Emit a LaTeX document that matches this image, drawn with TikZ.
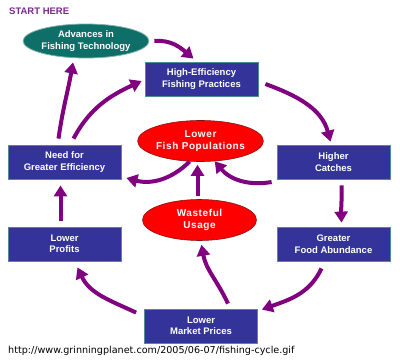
\documentclass[tikz,border=0pt]{standalone}
\usepackage{fontspec}
\setmainfont{Liberation Sans}
\newfontfamily\urlfont{DejaVu Sans}
\newfontfamily\spacedfont[LetterSpace=6]{Liberation Sans}
\usetikzlibrary{arrows.meta,shapes.geometric}
\definecolor{boxblue}{HTML}{333399}
\definecolor{boxedge}{HTML}{4E8C96}
\definecolor{techteal}{HTML}{0E6E68}
\definecolor{techedge}{HTML}{7FB0AA}
\definecolor{popred}{HTML}{FF0000}
\definecolor{rededge}{HTML}{8A1010}
\definecolor{arrowpurple}{HTML}{800080}
\definecolor{startpurple}{HTML}{7A2A8C}
\tikzset{
  stagebox/.style={draw=boxedge, line width=0.8pt, fill=boxblue, text=white,
    minimum width=113pt, minimum height=34pt, align=center, inner sep=0pt,
    font=\bfseries\fontsize{9.5}{11.5}\selectfont},
  techoval/.style={ellipse, draw=techedge, line width=0.8pt, fill=techteal, text=white,
    minimum width=114pt, minimum height=34pt, align=center, inner sep=0pt,
    font=\bfseries\fontsize{9.5}{11.5}\selectfont},
  redoval/.style={ellipse, draw=rededge, line width=0.6pt, fill=popred, text=white,
    minimum width=114pt, minimum height=41pt, align=center, inner sep=0pt,
    font=\spacedfont\bfseries\fontsize{10}{12}\selectfont},
  flow/.style={draw=arrowpurple, line width=4pt,
    -{Triangle[length=11pt,width=13pt]}}
}
\begin{document}
\begin{tikzpicture}[x=1pt,y=1pt]
\useasboundingbox (0,0) rectangle (400,360);
\fill[white] (0,0) rectangle (400,360);

\node[anchor=west, text=startpurple, font=\bfseries\fontsize{9.5}{11}\selectfont, inner sep=0pt] (start) at (9,349) {START HERE};

\node[techoval] (tech) at (86,319) {Advances in\\Fishing Technology};
\node[stagebox] (hep) at (201.5,281) {High-Efficiency\\Fishing Practices};
\node[stagebox] (catch) at (333.5,198) {Higher\\Catches};
\node[stagebox] (food) at (333.5,116) {Greater\\Food Abundance};
\node[stagebox] (market) at (201,34) {Lower\\Market Prices};
\node[stagebox] (profits) at (64.5,116) {Lower\\Profits};
\node[stagebox] (need) at (64.5,198) {Need for\\Greater Efficiency};
\node[redoval] (pop) at (200.5,219) {Lower\\Fish Populations};
\node[redoval] (waste) at (199.5,140) {Wasteful\\Usage};

\node[anchor=west, inner sep=0pt, font=\urlfont\fontsize{9.6}{11}\selectfont] (url) at (8,9) {http://www.grinningplanet.com/2005/06-07/fishing-cycle.gif};

\coordinate (a1s) at ([xshift=5pt]tech.east);
\draw[flow] (a1s) to[out=5, in=140] ([xshift=-8pt,yshift=3pt]hep.north);
\draw[flow] ([xshift=7pt,yshift=-5pt]hep.east) to[out=-20, in=105] ([xshift=-3pt,yshift=3pt]catch.north);
\draw[flow] ([xshift=8pt,yshift=-6pt]catch.south) to[out=-88, in=92] ([xshift=8pt,yshift=4pt]food.north);
\draw[flow] ([xshift=-12pt,yshift=-7pt]food.south) to[out=-115, in=20] ([xshift=4pt,yshift=-1pt]market.north east);
\draw[flow] ([xshift=-8pt,yshift=-4pt]market.north west) to[out=155, in=-65] ([xshift=13pt,yshift=-6pt]profits.south);
\draw[flow] ([xshift=-4pt,yshift=6pt]profits.north) to[out=90, in=-90] ([xshift=-4pt,yshift=-6pt]need.south);
\draw[flow] ([xshift=-6pt,yshift=6pt]need.north) to[out=82, in=-100] ([xshift=-13pt,yshift=-4pt]tech.south);
\draw[flow] ([xshift=9pt,yshift=6pt]need.north) to[out=62, in=205] ([xshift=-3pt,yshift=-2pt]hep.west);
\draw[flow] (pop.-118) to[out=-135, in=-15] ([xshift=5pt,yshift=-16pt]need.east);
\draw[flow] ([xshift=-5pt,yshift=-20pt]catch.west) to[out=190, in=-50] (pop.-55);
\draw[flow] ([xshift=-2pt,yshift=3pt]waste.north) -- ([xshift=-3pt,yshift=-3pt]pop.south);
\draw[flow] ([xshift=27pt,yshift=5pt]market.north) to[out=115, in=-80] ([xshift=2pt,yshift=-4pt]waste.south);
\end{tikzpicture}
\end{document}
